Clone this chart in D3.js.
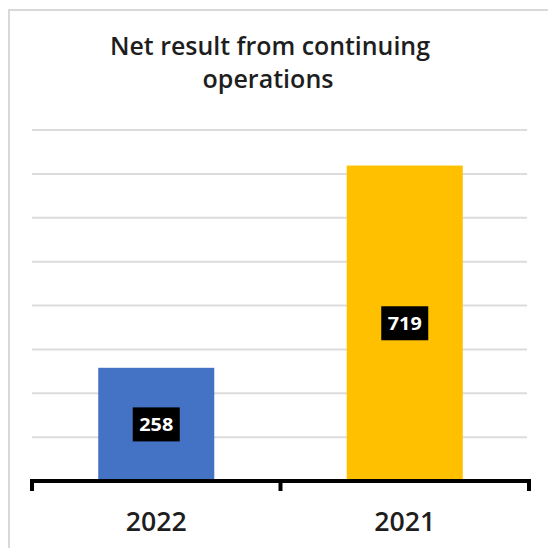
<!DOCTYPE html>
<html>
<head>
<meta charset="utf-8">
<script src="https://cdn.jsdelivr.net/npm/d3@7"></script>
<style>
  html, body { margin: 0; padding: 0; background: #ffffff; }
  svg { display: block; }
</style>
</head>
<body>
<script>
// Chart data
const categories = ["2022", "2021"];
const values = [258, 719];
const barColors = ["#4472C4", "#FFC000"];
const titleLines = ["Net result from continuing", "operations"];
const yMax = 800;
const gridStep = 100;

const W = 548, H = 548;
const svg = d3.select("body").append("svg")
  .attr("width", W).attr("height", H);

svg.append("rect").attr("width", W).attr("height", H).attr("fill", "#fff");

// Outer chart frame (runs off the right and bottom edges)
svg.append("rect")
  .attr("x", 9).attr("y", 10)
  .attr("width", W + 20).attr("height", H + 20)
  .attr("fill", "none")
  .attr("stroke", "#d9d9d9").attr("stroke-width", 2);

const plotLeft = 32, plotRight = 529, gridRight = 527;
const x = d3.scaleBand().domain(categories).range([plotLeft, plotRight]).padding(0);
const y = d3.scaleLinear().domain([0, yMax]).range([481, 130]);

// Title
const titleFont = "'Open Sans', 'DejaVu Sans', sans-serif";
const titleSpecs = [
  { text: titleLines[0], cx: 270, y: 55, len: 320 },
  { text: titleLines[1], cx: 268, y: 88, len: 131 }
];
svg.selectAll("text.title").data(titleSpecs).join("text")
  .attr("class", "title")
  .attr("x", d => d.cx).attr("y", d => d.y)
  .attr("text-anchor", "middle")
  .attr("font-family", titleFont)
  .attr("font-size", 24.5)
  .attr("font-weight", 600)
  .attr("fill", "#1e1e1e")
  .attr("textLength", d => d.len)
  .attr("lengthAdjust", "spacingAndGlyphs")
  .text(d => d.text);

// Horizontal gridlines
const gridVals = d3.range(gridStep, yMax + 1, gridStep);
svg.append("g").selectAll("line").data(gridVals).join("line")
  .attr("x1", plotLeft).attr("x2", gridRight)
  .attr("y1", d => y(d)).attr("y2", d => y(d))
  .attr("stroke", "#dcdcdc").attr("stroke-width", 2);

// Bars
const barW = x.bandwidth() * 0.467;
const bars = svg.append("g");
bars.selectAll("rect").data(categories).join("rect")
  .attr("x", (c) => x(c) + (x.bandwidth() - barW) / 2)
  .attr("y", (c, i) => y(values[i]))
  .attr("width", barW)
  .attr("height", (c, i) => y(0) - y(values[i]))
  .attr("fill", (c, i) => barColors[i]);

// Category axis: baseline with ticks at band boundaries
const axis = svg.append("g");
axis.append("line")
  .attr("x1", plotLeft).attr("x2", plotRight)
  .attr("y1", y(0)).attr("y2", y(0))
  .attr("stroke", "#000").attr("stroke-width", 4);
const boundaries = categories.map(c => x(c)).concat([x.range()[1]]);
axis.selectAll("line.tick").data(boundaries).join("line")
  .attr("class", "tick")
  .attr("x1", d => d).attr("x2", d => d)
  .attr("y1", y(0) - 2).attr("y2", y(0) + 10)
  .attr("stroke", "#000").attr("stroke-width", 4);

axis.selectAll("text.cat").data(categories).join("text")
  .attr("class", "cat")
  .attr("x", c => x(c) + x.bandwidth() / 2)
  .attr("y", 531)
  .attr("text-anchor", "middle")
  .attr("font-family", titleFont)
  .attr("font-size", 27)
  .attr("font-weight", 600)
  .attr("fill", "#1e1e1e")
  .attr("textLength", 61)
  .attr("lengthAdjust", "spacingAndGlyphs")
  .text(c => c);

// Value labels: white text in black boxes at bar mid-height
const labels = svg.append("g").selectAll("g").data(categories).join("g")
  .attr("transform", (c, i) =>
    `translate(${x(c) + x.bandwidth() / 2},${(y(values[i]) + y(0)) / 2})`);
labels.append("rect")
  .attr("x", -23.5).attr("y", -17)
  .attr("width", 47).attr("height", 34)
  .attr("fill", "#000");
labels.append("text")
  .attr("x", 0).attr("y", 7)
  .attr("text-anchor", "middle")
  .attr("font-family", titleFont)
  .attr("font-size", 17)
  .attr("font-weight", 700)
  .attr("fill", "#fff")
  .attr("textLength", 34)
  .attr("lengthAdjust", "spacingAndGlyphs")
  .text((c, i) => values[i]);
</script>
</body>
</html>
